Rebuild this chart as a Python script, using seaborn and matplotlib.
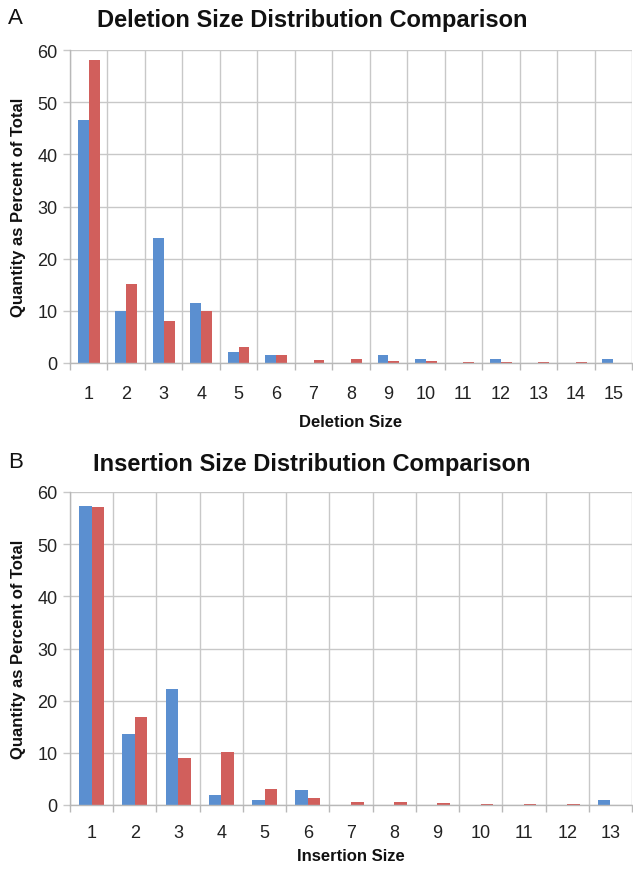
import numpy as np
import pandas as pd
import matplotlib
matplotlib.use("Agg")
import matplotlib.pyplot as plt
import seaborn as sns

# ---- data ----
del_sizes = [str(i) for i in range(1, 16)]
del_series1 = [46.5, 10.0, 23.9, 11.5, 2.2, 1.45, 0.0, 0.0, 1.45, 0.7, 0.0, 0.7, 0.0, 0.0, 0.7]
del_series2 = [58.0, 15.2, 8.1, 10.0, 3.0, 1.45, 0.6, 0.7, 0.45, 0.45, 0.25, 0.2, 0.15, 0.1, 0.05]

ins_sizes = [str(i) for i in range(1, 14)]
ins_series1 = [57.25, 13.55, 22.3, 1.95, 1.0, 2.9, 0.0, 0.0, 0.0, 0.0, 0.0, 0.0, 0.95]
ins_series2 = [57.1, 16.8, 9.1, 10.25, 3.05, 1.3, 0.6, 0.65, 0.45, 0.25, 0.2, 0.1, 0.0]

series_names = ["Series 1", "Series 2"]
colors = ["#5B8FD0", "#D15F5C"]
y_ticks = [0, 10, 20, 30, 40, 50, 60]

sns.set_theme(style="white")
plt.rcParams['font.family'] = ['Liberation Sans', 'DejaVu Sans']

fig = plt.figure(figsize=(6.33, 8.70), dpi=100)
ax1 = fig.add_axes([70/633, 1-364/870, 562/633, 313/870])
ax2 = fig.add_axes([70/633, 1-806/870, 562/633, 313/870])

def make_df(sizes, s1, s2):
    return pd.DataFrame({
        "size": sizes * 2,
        "value": list(s1) + list(s2),
        "series": [series_names[0]] * len(sizes) + [series_names[1]] * len(sizes),
    })

def draw(ax, sizes, s1, s2, xlabel, tickpad, labelpad):
    df = make_df(sizes, s1, s2)
    sns.barplot(data=df, x="size", y="value", hue="series", palette=colors,
                width=0.58, ax=ax, legend=False, saturation=1, linewidth=0)
    n = len(sizes)
    ax.set_xlim(-0.5, n - 0.5)
    ax.set_ylim(0, 60)
    ax.set_yticks(y_ticks)
    ax.set_xticks(np.arange(-0.5, n, 1), minor=True)
    ax.grid(True, which="major", axis="y", color="#c8c8c8", linewidth=1)
    ax.grid(True, which="minor", axis="x", color="#c8c8c8", linewidth=1)
    ax.grid(False, which="major", axis="x")
    ax.set_axisbelow(True)
    for s in ["top", "right"]:
        ax.spines[s].set_visible(False)
    for s in ["left", "bottom"]:
        ax.spines[s].set_color("#b8b8b8")
        ax.spines[s].set_linewidth(1)
    ax.tick_params(axis="x", which="major", length=0, labelsize=13, pad=tickpad, colors="#222222")
    ax.tick_params(axis="x", which="minor", length=5, width=1, color="#b8b8b8", bottom=True)
    ax.tick_params(axis="y", which="major", length=5, width=1, color="#c8c8c8", left=True,
                   labelsize=13, pad=4, labelcolor="#222222")
    ax.set_xlabel(xlabel, fontsize=12, fontweight="bold", labelpad=labelpad, color="#111111")
    ax.set_ylabel("Quantity as Percent of Total", fontsize=12, fontweight="bold",
                  labelpad=8, color="#111111")

draw(ax1, del_sizes, del_series1, del_series2, "Deletion Size", 15.5, 9)
draw(ax2, ins_sizes, ins_series1, ins_series2, "Insertion Size", 14, 5)

fig.text(0.493, 1 - 20/870, "Deletion Size Distribution Comparison", ha="center", va="center",
         fontsize=17, fontweight="bold", color="#111111")
fig.text(0.493, 1 - 465/870, "Insertion Size Distribution Comparison", ha="center", va="center",
         fontsize=17, fontweight="bold", color="#111111")
fig.text(8/633, 1 - 18/870, "A", ha="left", va="center", fontsize=16, color="#111111")
fig.text(8/633, 1 - 463/870, "B", ha="left", va="center", fontsize=16, color="#111111")

fig.savefig("out.png", dpi=100)
